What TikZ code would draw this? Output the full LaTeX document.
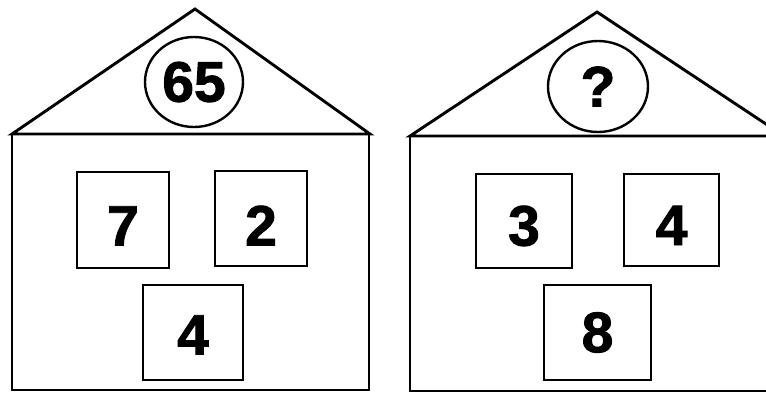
\documentclass[tikz,border=0pt]{standalone}
\usepackage{fontspec}
\setmainfont{Liberation Sans}
\newfontfamily\heavyfont[FakeBold=1.6]{Liberation Sans Bold}
\usetikzlibrary{shapes.geometric}
\begin{document}
\begin{tikzpicture}[x=1pt,y=-1pt,line width=2.9pt,
  win/.style={draw,rectangle,inner sep=0pt,font=\heavyfont\fontsize{57}{57}\selectfont},
  lowtext/.style={text height=#1,text depth=0pt},
  oval/.style={draw,ellipse,inner sep=0pt,line width=2.4pt,font=\heavyfont\fontsize{57}{57}\selectfont},
  wall/.style={draw,line join=miter}]
\useasboundingbox (0,0) rectangle (766,392);
\clip (0,0) rectangle (766,392);
% left house
\coordinate (la) at (195,9);
\coordinate (ll) at (12,134);
\coordinate (lr) at (370,134);
\coordinate (lbr) at (369,390);
\draw[wall] (ll) -- (la) -- (lr) -- cycle;
\draw[wall] (ll) rectangle (lbr);
\node[oval,minimum width=98pt,minimum height=90pt] (e1) at (194,82) {65};
\node[win,lowtext=51pt,minimum width=92pt,minimum height=96pt] (b7) at (123,220) {7};
\node[win,lowtext=54pt,minimum width=92pt,minimum height=95pt] (b2) at (261,218.5) {2};
\node[win,lowtext=44pt,minimum width=100pt,minimum height=95pt] (b4) at (193,332.5) {4};
% right house
\coordinate (ra) at (597,12);
\coordinate (rl) at (410,136);
\coordinate (rr) at (784,136);
\coordinate (rbr) at (784,391);
\draw[wall] (rl) -- (ra) -- (rr) -- cycle;
\draw[wall] (rl) rectangle (rbr);
\node[oval,minimum width=100pt,minimum height=91pt] (e2) at (598,86.5) {?};
\node[win,lowtext=49pt,minimum width=96pt,minimum height=94pt] (b3) at (524,221) {3};
\node[win,lowtext=50pt,minimum width=95pt,minimum height=92pt] (b4r) at (671.5,220) {4};
\node[win,minimum width=107pt,minimum height=95pt] (b8) at (597.5,332.5) {8};
\end{tikzpicture}
\end{document}
